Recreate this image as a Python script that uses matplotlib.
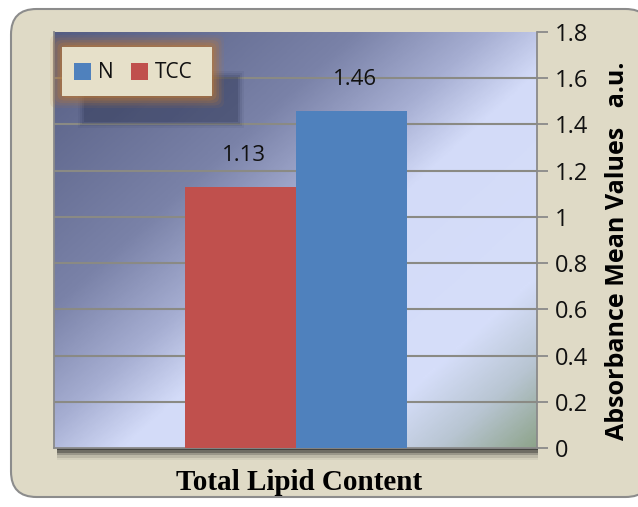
import matplotlib
matplotlib.use("Agg")
import matplotlib.pyplot as plt
import numpy as np
from matplotlib.colors import LinearSegmentedColormap
from matplotlib.patches import FancyBboxPatch, Rectangle

# data
series = ["TCC", "N"]
values = [1.13, 1.46]
bar_colors = ["#c0504d", "#4f81bd"]
category = "Total Lipid Content"
yticks = [0, 0.2, 0.4, 0.6, 0.8, 1, 1.2, 1.4, 1.6, 1.8]
ytick_labels = ["0", "0.2", "0.4", "0.6", "0.8", "1", "1.2", "1.4", "1.6", "1.8"]

W, H = 638, 507
fig = plt.figure(figsize=(W / 100, H / 100), dpi=100)
fig.patch.set_facecolor("white")


def px_rect(x, y, w, h, **kw):
    # rectangle given in pixel coords with y measured from the top
    r = Rectangle((x / W, (H - y - h) / H), w / W, h / H,
                  transform=fig.transFigure, edgecolor="none", **kw)
    fig.patches.append(r)
    return r


# outer rounded panel
panel = FancyBboxPatch((11 / W, 10 / H), 640 / W, 488 / H,
                       boxstyle="round,pad=0,rounding_size=0.04",
                       transform=fig.transFigure, facecolor="#dfdac6",
                       edgecolor="#8c8c8c", linewidth=1.5, mutation_aspect=W / H,
                       zorder=-10)
fig.patches.append(panel)

# shadow under the plot area
for i, a in enumerate([0.5, 0.35, 0.22, 0.12, 0.06]):
    px_rect(57, 447, 481, 3 + i * 2.5, facecolor="#202020", alpha=a, zorder=-5)

ax = fig.add_axes([54 / W, (H - 448) / H, 483 / W, 416 / H])
ax.set_zorder(1)

# gradient background
cmap = LinearSegmentedColormap.from_list("bg", [
    (0.0, "#555d82"), (0.32, "#7a82a8"), (0.46, "#a6aed2"), (0.56, "#d3dbf8"),
    (0.8, "#d6defa"), (0.9, "#b8c5d2"), (1.0, "#8ea48b")])
gx, gy = np.meshgrid(np.linspace(0, 1, 300), np.linspace(0, 1, 300))
grad = (gx * 1.05 + gy) / 2.05
ax.imshow(grad, cmap=cmap, extent=[0, 1, 0, 1], transform=ax.transAxes,
          aspect="auto", origin="upper", zorder=0, interpolation="bilinear")

for y in yticks[1:-1]:
    ax.axhline(y, color="#8a8a84", linewidth=1.5, zorder=1)

width = 0.45
xs = [-width / 2, width / 2]
bars = ax.bar(xs, values, width=width, color=bar_colors, zorder=3)
for x, v in zip(xs, values):
    ax.text(x + 0.015, v + 0.09, f"{v:.2f}", ha="center", va="bottom",
            fontsize=16, family="Open Sans", color="#111111", zorder=4)

ax.set_xlim(-0.985, 0.981)
ax.set_ylim(0, 1.8)
ax.set_xticks([])
ax.yaxis.tick_right()
ax.set_yticks(yticks)
ax.set_yticklabels(ytick_labels, fontsize=17, family="Open Sans", color="#111111")
ax.tick_params(axis="y", length=8, width=1.3, color="#8a8a8a", pad=5)
ax.spines["top"].set_visible(False)
for s in ["left", "bottom", "right"]:
    ax.spines[s].set_color("#8a8a8a")
    ax.spines[s].set_linewidth(1.3)

# legend with glow and shadow
lx, ly, lw, lh = 62, 47, 150, 49
for i, a in enumerate([0.08, 0.12, 0.18, 0.25]):
    p = 8 - i * 2
    px_rect(lx + 24 - p, ly + 32 - p, lw + 2 * p, lh - 8 + 2 * p,
            facecolor="#2e3654", alpha=a, zorder=4)
for i, a in enumerate([0.1, 0.15, 0.2, 0.28, 0.4]):
    p = 12 - i * 2.5
    fig.patches.append(FancyBboxPatch(((lx - p) / W, (H - ly - lh - p) / H),
                                      (lw + 2 * p) / W, (lh + 2 * p) / H,
                                      boxstyle="round,pad=0,rounding_size=0.012",
                                      transform=fig.transFigure, facecolor="#b8783a",
                                      edgecolor="none", alpha=a, zorder=5))
px_rect(lx, ly, lw, lh, facecolor="#e6e0c9", zorder=6)
px_rect(74, 63, 17, 17, facecolor=bar_colors[1], zorder=7)
px_rect(131, 63, 17, 17, facecolor=bar_colors[0], zorder=7)
fig.text(98 / W, (H - 72) / H, series[1], fontsize=15, family="Open Sans",
         va="center", ha="left", zorder=7, color="#111111")
fig.text(155 / W, (H - 72) / H, series[0], fontsize=15, family="Open Sans",
         va="center", ha="left", zorder=7, color="#111111")

fig.text(299 / W, (H - 482) / H, category, fontsize=21, family="Liberation Serif",
         weight="bold", ha="center", va="center")
fig.text(618 / W, (H - 251) / H, "Absorbance Mean Values   a.u.", fontsize=18,
         family="Open Sans", weight="bold", rotation=90, ha="center", va="center")

fig.savefig("out.png", dpi=100)
